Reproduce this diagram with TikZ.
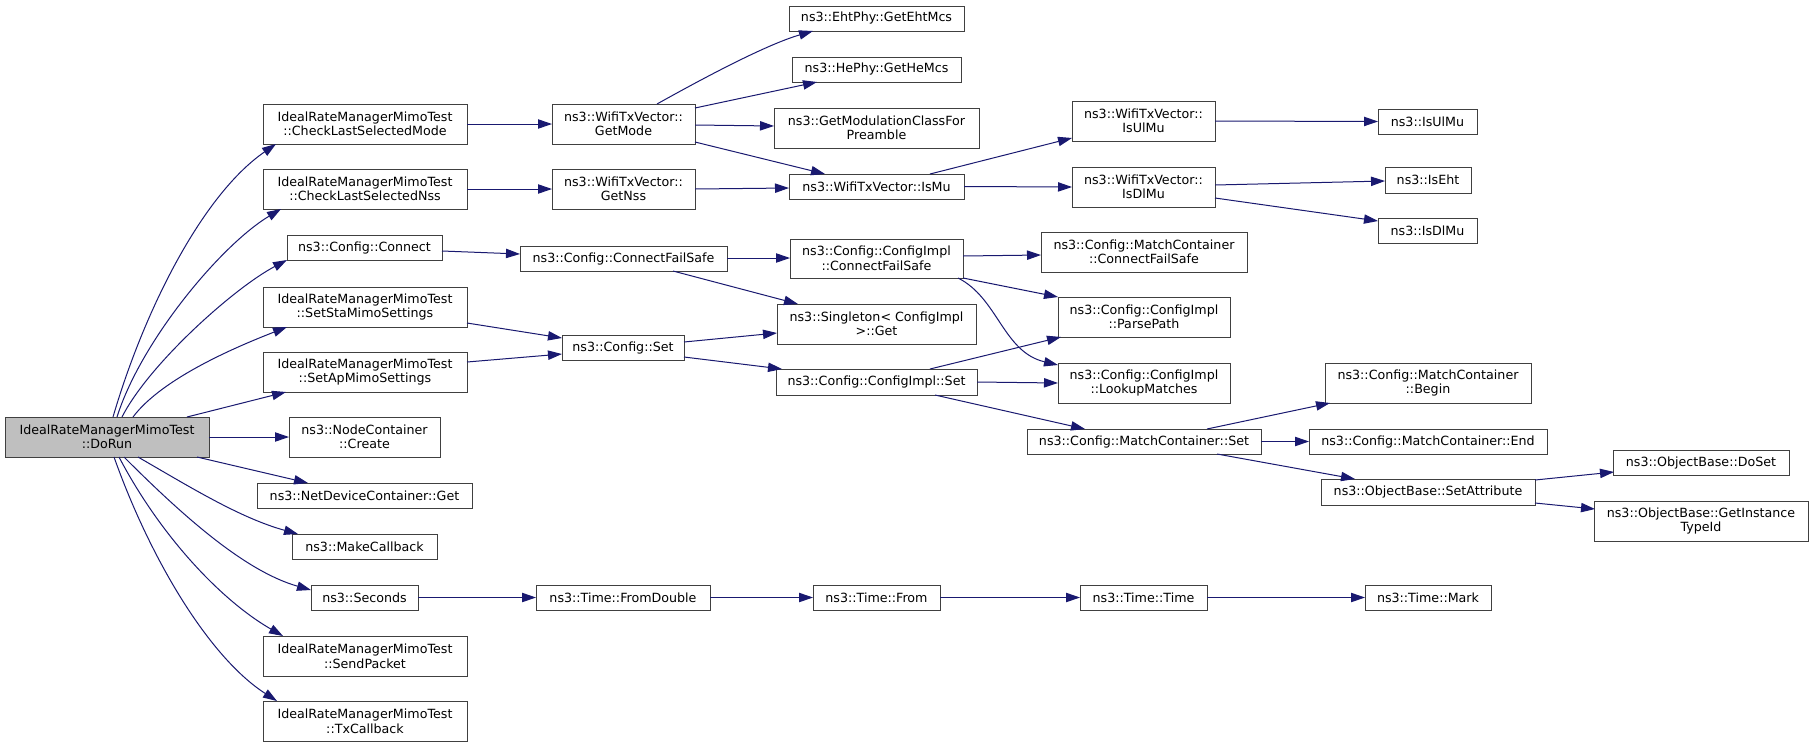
\documentclass[tikz,border=0pt]{standalone}
\usepackage{fontspec}
\setmainfont{DejaVu Sans}
\usetikzlibrary{arrows.meta,calc}
\definecolor{edgeblue}{HTML}{191970}
\definecolor{boxline}{HTML}{404040}
\definecolor{rootfill}{HTML}{BFBFBF}
\tikzset{
  box/.style={draw=boxline,line width=0.75pt,fill=white,inner sep=0pt,outer sep=0pt,
    align=center,font=\fontsize{9.5}{10.9}\selectfont,text=black},
  root/.style={fill=rootfill},
  edge/.style={draw=edgeblue,line width=0.75pt,-{Triangle[length=10.5pt,width=7pt]}}
}
\newcommand\nb[7][]{\node[box,#1,minimum width={(#5-#3)*0.75pt},minimum height={(#6-#4)*0.75pt}] (#2) at ({(#3+#5)/2},{(#4+#6)/2}) {#7};}
\begin{document}
\begin{tikzpicture}[x=0.75pt,y=-0.75pt]
\useasboundingbox[fill=white] (0,0) rectangle (1813,747);
% column 1
\nb[root]{doRun}{5}{417}{209}{457}{IdealRateManagerMimoTest\\::DoRun}
% column 2
\nb{cmode}{263}{104}{467}{144}{IdealRateManagerMimoTest\\::CheckLastSelectedMode}
\nb{cnss}{263}{169}{467}{209}{IdealRateManagerMimoTest\\::CheckLastSelectedNss}
\nb{conn}{287}{235}{442}{260}{ns3::Config::Connect}
\nb{sta}{263}{287}{467}{327}{IdealRateManagerMimoTest\\::SetStaMimoSettings}
\nb{ap}{263}{352}{467}{392}{IdealRateManagerMimoTest\\::SetApMimoSettings}
\nb{create}{289}{417}{440}{457}{ns3::NodeContainer\\::Create}
\nb{ndget}{257}{483}{472}{508}{ns3::NetDeviceContainer::Get}
\nb{mkcb}{292}{534}{437}{559}{ns3::MakeCallback}
\nb{secs}{311}{585}{418}{610}{ns3::Seconds}
\nb{send}{263}{636}{467}{676}{IdealRateManagerMimoTest\\::SendPacket}
\nb{txcb}{263}{701}{467}{741}{IdealRateManagerMimoTest\\::TxCallback}
% column 3
\nb{getmode}{552}{104}{695}{144}{ns3::WifiTxVector::\\GetMode}
\nb{getnss}{552}{169}{695}{209}{ns3::WifiTxVector::\\GetNss}
\nb{cfs}{520}{246}{727}{271}{ns3::Config::ConnectFailSafe}
\nb{cset}{562}{335}{684}{360}{ns3::Config::Set}
\nb{fromd}{536}{585}{710}{610}{ns3::Time::FromDouble}
% column 4
\nb{eht}{789}{6}{964}{31}{ns3::EhtPhy::GetEhtMcs}
\nb{he}{792}{57}{961}{82}{ns3::HePhy::GetHeMcs}
\nb{gmc}{774}{108}{979}{148}{ns3::GetModulationClassFor\\Preamble}
\nb{ismu}{789}{174}{964}{199}{ns3::WifiTxVector::IsMu}
\nb{icfs}{790}{239}{963}{278}{ns3::Config::ConfigImpl\\::ConnectFailSafe}
\nb{single}{777}{304}{976}{344}{ns3::Singleton< ConfigImpl\\>::Get}
\nb{iset}{776}{369}{977}{395}{ns3::Config::ConfigImpl::Set}
\nb{from}{813}{585}{940}{610}{ns3::Time::From}
% column 5
\nb{isul}{1072}{101}{1215}{141}{ns3::WifiTxVector::\\IsUlMu}
\nb{isdl}{1072}{167}{1215}{207}{ns3::WifiTxVector::\\IsDlMu}
\nb{mcfs}{1041}{232}{1247}{272}{ns3::Config::MatchContainer\\::ConnectFailSafe}
\nb{parse}{1058}{297}{1230}{337}{ns3::Config::ConfigImpl\\::ParsePath}
\nb{lookup}{1058}{363}{1230}{403}{ns3::Config::ConfigImpl\\::LookupMatches}
\nb{mset}{1027}{429}{1261}{454}{ns3::Config::MatchContainer::Set}
\nb{time}{1080}{585}{1207}{610}{ns3::Time::Time}
% column 6
\nb{nisul}{1378}{109}{1477}{134}{ns3::IsUlMu}
\nb{niseht}{1385}{167}{1471}{193}{ns3::IsEht}
\nb{nisdl}{1378}{218}{1477}{243}{ns3::IsDlMu}
\nb{begin}{1325}{363}{1531}{403}{ns3::Config::MatchContainer\\::Begin}
\nb{end}{1309}{429}{1547}{454}{ns3::Config::MatchContainer::End}
\nb{setattr}{1321}{479}{1535}{505}{ns3::ObjectBase::SetAttribute}
\nb{mark}{1365}{585}{1491}{610}{ns3::Time::Mark}
% column 7
\nb{doset}{1613}{450}{1789}{475}{ns3::ObjectBase::DoSet}
\nb{gitid}{1594}{501}{1808}{541}{ns3::ObjectBase::GetInstance\\TypeId}
% edges from DoRun
\draw[edge] ($(doRun.north west)+(108,0)$) .. controls (144,311) and (202,195) .. ($(cmode.north west)+(13,40)$);
\draw[edge] ($(doRun.north west)+(112,0)$) .. controls (141,341) and (221,245) .. ($(cnss.north west)+(18,40)$);
\draw[edge] ($(doRun.north west)+(117,0)$) .. controls (149,364) and (234,288) .. ($(conn.north west)+(0,25)$);
\draw[edge] ($(doRun.north west)+(128,0)$) .. controls (163,377) and (241,345) .. ($(sta.north west)+(24,40)$);
\draw[edge] ($(doRun.north west)+(182,0)$) -- ($(ap.north west)+(23,40)$);
\draw[edge] (doRun.east) -- (create.west);
\draw[edge] ($(doRun.north west)+(192,40)$) -- ($(ndget.north west)+(51,0)$);
\draw[edge] ($(doRun.north west)+(133,40)$) .. controls (190,487) and (240,518) .. ($(mkcb.north west)+(6,0)$);
\draw[edge] ($(doRun.north west)+(119,40)$) .. controls (181,514) and (244,571) .. ($(secs.north west)+(0,5)$);
\draw[edge] ($(doRun.north west)+(114,40)$) .. controls (161,537) and (222,601) .. ($(send.north west)+(20,0)$);
\draw[edge] ($(doRun.north west)+(109,40)$) .. controls (151,561) and (210,658) .. ($(txcb.north west)+(14,0)$);
% second level
\draw[edge] (cmode.east) -- (getmode.west);
\draw[edge] (cnss.east) -- (getnss.west);
\draw[edge] ($(conn.north west)+(155,16)$) -- ($(cfs.north west)+(0,8)$);
\draw[edge] ($(sta.north west)+(204,36)$) -- ($(cset.north west)+(0,3)$);
\draw[edge] ($(ap.north west)+(204,10)$) -- ($(cset.north west)+(0,19)$);
% third level
\draw[edge] ($(getmode.north west)+(105,0)$) .. controls (700,80) and (765,45) .. ($(eht.north west)+(24,25)$);
\draw[edge] ($(getmode.north west)+(143,4)$) -- ($(he.north west)+(25,25)$);
\draw[edge] ($(getmode.north west)+(143,21)$) -- ($(gmc.north west)+(0,18)$);
\draw[edge] ($(getmode.north west)+(143,38)$) -- ($(ismu.north west)+(36,0)$);
\draw[edge] ($(getnss.north west)+(143,20)$) -- ($(ismu.north west)+(0,14)$);
\draw[edge] ($(cfs.north west)+(207,12)$) -- ($(icfs.north west)+(0,19)$);
\draw[edge] ($(cfs.north west)+(153,25)$) -- ($(single.north west)+(21,0)$);
\draw[edge] ($(cset.north west)+(122,7)$) -- ($(single.north west)+(0,29)$);
\draw[edge] ($(cset.north west)+(122,22)$) -- ($(iset.north west)+(6,0)$);
\draw[edge] (secs.east) -- (fromd.west);
% fourth level
\draw[edge] ($(ismu.north west)+(141,0)$) -- ($(isul.north west)+(0,37)$);
\draw[edge] (ismu.east) -- ($(isdl.north west)+(0,20)$);
\draw[edge] ($(icfs.north west)+(173,17)$) -- ($(mcfs.north west)+(0,23)$);
\draw[edge] ($(icfs.north west)+(173,39)$) -- (parse.north west);
\draw[edge] ($(icfs.north west)+(168,39)$) .. controls (998,298) and (1003,352) .. ($(lookup.north west)+(0,2)$);
\draw[edge] ($(iset.north west)+(154,0)$) -- ($(parse.north west)+(3,40)$);
\draw[edge] (iset.east) -- ($(lookup.north west)+(0,20)$);
\draw[edge] ($(iset.north west)+(159,26)$) -- ($(mset.north west)+(58,0)$);
\draw[edge] (fromd.east) -- (from.west);
% fifth level
\draw[edge] (isul.east) -- (nisul.west);
\draw[edge] ($(isdl.north west)+(143,18)$) -- ($(niseht.north west)+(0,14)$);
\draw[edge] ($(isdl.north west)+(143,31)$) -- ($(nisdl.north west)+(0,3)$);
\draw[edge] ($(mset.north west)+(180,0)$) -- ($(begin.north west)+(5,40)$);
\draw[edge] (mset.east) -- (end.west);
\draw[edge] ($(mset.north west)+(190,25)$) -- ($(setattr.north west)+(34,0)$);
\draw[edge] (from.east) -- (time.west);
\draw[edge] (time.east) -- (mark.west);
% sixth level
\draw[edge] ($(setattr.north west)+(214,1)$) -- ($(doset.north west)+(1,22)$);
\draw[edge] ($(setattr.north west)+(214,24)$) -- ($(gitid.north west)+(1,8)$);
\end{tikzpicture}
\end{document}
